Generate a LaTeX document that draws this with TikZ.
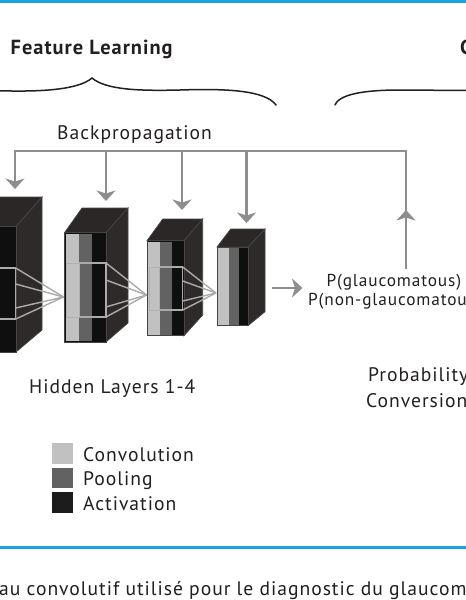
\documentclass[tikz,border=0pt]{standalone}
\usepackage{fontspec}
\setmainfont{PT Sans}[LetterSpace=5]
\usetikzlibrary{arrows.meta}
\definecolor{bluerule}{HTML}{1BA3DE}
\definecolor{arrowgrey}{HTML}{8E8E8E}
\definecolor{convgrey}{HTML}{C2C1C2}
\definecolor{poolgrey}{HTML}{636262}
\definecolor{actblack}{HTML}{100F0F}
\definecolor{legblack}{HTML}{1C1C1C}
\definecolor{cubetop}{HTML}{2A2726}
\definecolor{cubeside}{HTML}{2E2A29}
\definecolor{cubeedge}{HTML}{454545}
\definecolor{boxgrey}{HTML}{ABABAB}
\definecolor{inktext}{HTML}{231F20}
\tikzset{
  label text/.style={inner sep=0pt,anchor=base west,text=inktext,font=\fontsize{19.6}{22}\selectfont},
  head text/.style={label text,font=\fontsize{20.4}{22}\selectfont\bfseries},
  prob text/.style={label text,font=\fontsize{17.3}{20}\selectfont},
  brace line/.style={draw=inktext,line width=1.5pt,line cap=round},
  bus/.style={draw=arrowgrey,line width=2.4pt},
  busarrow/.style={bus,-{Stealth[length=10.5pt,width=19pt,inset=3pt]}},
  swatch/.style={minimum size=20.5pt,inner sep=0pt,anchor=north west},
  funnel/.style={draw=boxgrey,line width=1.4pt},
}
% #1 front left, #2 front right, #3 front top, #4 front bottom,
% #5 back right, #6 back top, #7 back bottom, #8 back left
\newcommand{\cubeblock}[8]{
  \fill[cubetop,draw=cubeedge,line width=.7pt] (#1,#3)--(#8,#6)--(#5,#6)--(#2,#3)--cycle;
  \fill[cubeside,draw=cubeedge,line width=.7pt] (#2,#3)--(#5,#6)--(#5,#7)--(#2,#4)--cycle;
  \fill[actblack,draw=cubeedge,line width=1pt] (#1,#3) rectangle (#2,#4);
}
\begin{document}
\begin{tikzpicture}[x=1pt,y=-1pt]
\useasboundingbox (0,0) rectangle (466,600);
\clip (0,0) rectangle (466,600);
\fill[white] (0,0) rectangle (466,600);
% rules
\fill[bluerule] (0,0) rectangle (466,3);
\fill[bluerule] (0,546) rectangle (466,548.5);
% headings
\node[head text] (feat) at (10.5,54) {Feature Learning};
\node[head text] (clas) at (460,54) {C};
% braces
\draw[brace line] (-2,90.7) .. controls (40,92) and (78,90) .. (92,78)
  .. controls (106,90) and (140,91) .. (180,90) .. controls (225,88.5) and (265,90) .. (276,105);
\draw[brace line] (335,105) .. controls (340,92) and (375,90) .. (400,90) -- (468,90.5);
% backpropagation
\node[label text] (bp) at (57,139) {Backpropagation};
% cubes
\cubeblock{-46}{16}{226.5}{352}{42}{197}{330}{-20}
\fill[actblack] (-46,228) rectangle (15,351);
\draw[funnel] (-46,268) -- (15.7,268) -- (15.7,319) -- (-46,319);
\cubeblock{64.5}{106}{232.7}{342}{128}{208}{323}{82}
\fill[convgrey] (65.5,234) rectangle (79,341);
\fill[poolgrey] (79,234) rectangle (92,341);
\draw[boxgrey!70!convgrey,line width=1pt] (66,263) rectangle (79,317);
\draw[funnel] (79,263) -- (106,263) -- (106,317) -- (79,317);
\cubeblock{147}{184}{240.7}{335.7}{202.7}{219}{315}{162.7}
\fill[convgrey] (148,242) rectangle (159.5,334.7);
\fill[poolgrey] (159.5,242) rectangle (172,334.7);
\draw[boxgrey!70!convgrey,line width=1pt] (149.5,267) rectangle (159.5,310);
\draw[funnel] (159.5,267) -- (182.7,267) -- (182.7,310) -- (159.5,310);
\cubeblock{217}{248}{247}{325.7}{265}{229}{311.7}{230.7}
\fill[convgrey] (218,248) rectangle (228.5,324.7);
\fill[poolgrey] (228.5,248) rectangle (238.5,324.7);
% funnels
\coordinate (f2) at (63.5,297);
\coordinate (f3) at (146.5,295);
\coordinate (f4) at (216,293);
\foreach \y in {268,284,308,319} \draw[funnel] (15.7,\y) -- (f2);
\foreach \y in {263,280,307,317} \draw[funnel] (106,\y) -- (f3);
\foreach \y in {267,281,301,310} \draw[funnel] (182.7,\y) -- (f4);
% output texts
\node[prob text] (pg) at (326.5,286) {P(glaucomatous)};
\node[prob text] (pn) at (308,305) {P(non-glaucomatous)};
% connectors
\coordinate (busL) at (15,151);
\coordinate (busR) at (406,151);
\coordinate (b1) at (106,151);
\coordinate (b2) at (182,151);
\coordinate (b3) at (246.5,151);
\coordinate (t0) at (15,189);
\coordinate (t1) at (106,201);
\coordinate (t2) at (182,210);
\coordinate (t3) at (246.5,223);
\coordinate (upbase) at (406,268);
\coordinate (uptip) at (406,210);
\coordinate (o1) at (272,288);
\coordinate (o2) at (302.5,288);
\draw[bus,line cap=rect] (busL) -- (busR) -- (upbase);
\draw[busarrow] (upbase) -- (uptip);
\draw[busarrow] (busL) -- (t0);
\draw[busarrow] (b1) -- (t1);
\draw[busarrow] (b2) -- (t2);
\draw[busarrow] (b3) -- (t3);
\draw[busarrow] (o1) -- (o2);
% labels
\node[label text] (hl) at (29,393) {Hidden Layers 1-4};
\node[label text] (pc1) at (368,381.5) {Probability};
\node[label text] (pc2) at (366,407) {Conversion};
% legend
\node[swatch,fill=convgrey] (s1) at (52,443) {};
\node[swatch,fill=poolgrey] (s2) at (52,467.3) {};
\node[swatch,fill=legblack] (s3) at (52,492) {};
\node[label text] (l1) at (83,461) {Convolution};
\node[label text] (l2) at (83,485) {Pooling};
\node[label text] (l3) at (83,510) {Activation};
% caption
\node[label text] (cap) at (-1,595.5) {au convolutif utilisé pour le diagnostic du glaucom};
\end{tikzpicture}
\end{document}
